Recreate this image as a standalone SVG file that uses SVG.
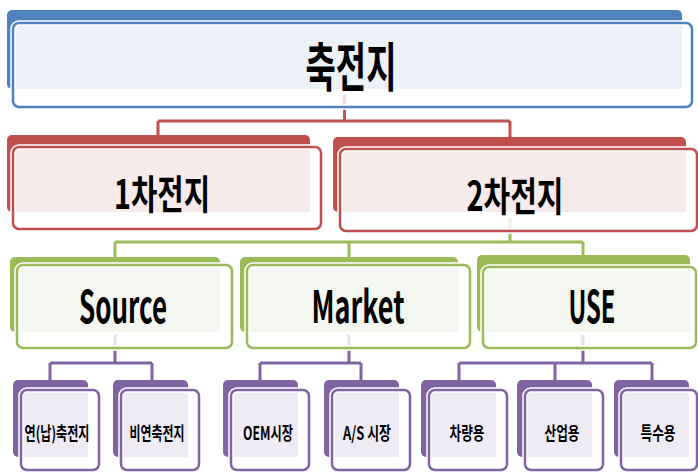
<svg xmlns="http://www.w3.org/2000/svg" width="698" height="472" viewBox="0 0 698 472">
<style>
.t{font-family:"Noto Sans CJK KR","Noto Sans",sans-serif;font-weight:bold;fill:#000;text-anchor:middle}
.halo{fill:none;stroke:#fff;stroke-width:5.5}
.fw{fill:#fff;fill-opacity:0.8}
.b .bk{fill:#4F81BD}.b .in{fill:#EDF2F9}.b .ln{fill:none;stroke:#4F81BD;stroke-width:2.5}
.r .bk{fill:#C0504D}.r .in{fill:#F6EAEA}.r .ln{fill:none;stroke:#C0504D;stroke-width:2.5}
.g .bk{fill:#9BBB59}.g .in{fill:#F4F7EF}.g .ln{fill:none;stroke:#9BBB59;stroke-width:2.5}
.p .bk{fill:#8064A2}.p .in{fill:#EFEBF5}.p .ln{fill:none;stroke:#8064A2;stroke-width:2.5}
.c{fill:none;stroke-width:3}
</style>
<rect width="698" height="472" fill="#fff"/>
<g id="connectors">
<path class="c" stroke="#C0504D" stroke-width="2.5" d="M344.5,95V121M158,121H510M158,121V135M510,121V137"/>
<path class="c" stroke="#9BBB59" d="M510,218V242M115,242H583M115,242V257M349,242V257M583,242V255"/>
<path class="c" stroke="#8064A2" d="M115,335V363M50,363H152M50,363V380M152,363V380M349,335V363M260,363H361M260,363V380M361,363V380M583,335V363M459,363H652M459,363V380M555,363V380M652,363V380"/>
</g>
<g id="n-root" class="b">
<rect class="bk" x="7" y="10" width="675" height="79" rx="5"/>
<rect class="fw" x="13" y="23" width="679" height="84" rx="6"/>
<rect class="in" x="13" y="23" width="669" height="66"/>
<rect class="halo" x="13" y="23" width="679" height="84" rx="6"/>
<rect class="ln" x="13" y="23" width="679" height="84" rx="6"/>
<text class="t" x="351" y="87" font-size="53" textLength="91" lengthAdjust="spacingAndGlyphs">축전지</text>
</g>
<g id="n-primary" class="r">
<rect class="bk" x="7" y="135" width="303" height="77" rx="5"/>
<rect class="fw" x="13" y="147" width="308" height="82" rx="6"/>
<rect class="in" x="13" y="147" width="297" height="65"/>
<rect class="halo" x="13" y="147" width="308" height="82" rx="6"/>
<rect class="ln" x="13" y="147" width="308" height="82" rx="6"/>
<text class="t" x="162" y="209" font-size="40" textLength="96" lengthAdjust="spacingAndGlyphs">1차전지</text>
</g>
<g id="n-secondary" class="r">
<rect class="bk" x="333" y="137" width="353" height="75" rx="5"/>
<rect class="fw" x="340" y="149" width="357" height="82" rx="6"/>
<rect class="in" x="340" y="149" width="346" height="63"/>
<rect class="halo" x="340" y="149" width="357" height="82" rx="6"/>
<rect class="ln" x="340" y="149" width="357" height="82" rx="6"/>
<text class="t" x="515" y="211" font-size="40" textLength="97" lengthAdjust="spacingAndGlyphs">2차전지</text>
</g>
<g id="n-source" class="g">
<rect class="bk" x="10" y="257" width="210" height="75" rx="5"/>
<rect class="fw" x="17" y="265" width="215" height="83" rx="6"/>
<rect class="in" x="17" y="265" width="203" height="67"/>
<rect class="halo" x="17" y="265" width="215" height="83" rx="6"/>
<rect class="ln" x="17" y="265" width="215" height="83" rx="6"/>
<text class="t" x="123" y="323" font-size="44" textLength="88" lengthAdjust="spacingAndGlyphs">Source</text>
</g>
<g id="n-market" class="g">
<rect class="bk" x="240" y="257" width="218" height="75" rx="5"/>
<rect class="fw" x="247" y="265" width="223" height="83" rx="6"/>
<rect class="in" x="247" y="265" width="211" height="67"/>
<rect class="halo" x="247" y="265" width="223" height="83" rx="6"/>
<rect class="ln" x="247" y="265" width="223" height="83" rx="6"/>
<text class="t" x="358" y="323" font-size="44" textLength="93" lengthAdjust="spacingAndGlyphs">Market</text>
</g>
<g id="n-use" class="g">
<rect class="bk" x="477" y="255" width="213" height="77" rx="5"/>
<rect class="fw" x="483" y="267" width="213" height="81" rx="6"/>
<rect class="in" x="483" y="267" width="207" height="65"/>
<rect class="halo" x="483" y="267" width="213" height="81" rx="6"/>
<rect class="ln" x="483" y="267" width="213" height="81" rx="6"/>
<text class="t" x="592" y="323" font-size="44" textLength="47" lengthAdjust="spacingAndGlyphs">USE</text>
</g>
<g id="n-lead" class="p">
<rect class="bk" x="13" y="380" width="75" height="77" rx="5"/>
<rect class="fw" x="21" y="390" width="78" height="80" rx="6"/>
<rect class="in" x="21" y="390" width="67" height="67"/>
<rect class="halo" x="21" y="390" width="78" height="80" rx="6"/>
<rect class="ln" x="21" y="390" width="78" height="80" rx="6"/>
<text class="t" x="57" y="440" font-size="18" textLength="65" lengthAdjust="spacingAndGlyphs">연(납)축전지</text>
</g>
<g id="n-nonlead" class="p">
<rect class="bk" x="113" y="380" width="75" height="77" rx="5"/>
<rect class="fw" x="121" y="390" width="78" height="80" rx="6"/>
<rect class="in" x="121" y="390" width="67" height="67"/>
<rect class="halo" x="121" y="390" width="78" height="80" rx="6"/>
<rect class="ln" x="121" y="390" width="78" height="80" rx="6"/>
<text class="t" x="157" y="440" font-size="18" textLength="55" lengthAdjust="spacingAndGlyphs">비연축전지</text>
</g>
<g id="n-oem" class="p">
<rect class="bk" x="223" y="380" width="75" height="77" rx="5"/>
<rect class="fw" x="231" y="390" width="78" height="80" rx="6"/>
<rect class="in" x="231" y="390" width="67" height="67"/>
<rect class="halo" x="231" y="390" width="78" height="80" rx="6"/>
<rect class="ln" x="231" y="390" width="78" height="80" rx="6"/>
<text class="t" x="268" y="440" font-size="18" textLength="50" lengthAdjust="spacingAndGlyphs">OEM시장</text>
</g>
<g id="n-as" class="p">
<rect class="bk" x="324" y="380" width="75" height="77" rx="5"/>
<rect class="fw" x="332" y="390" width="78" height="80" rx="6"/>
<rect class="in" x="332" y="390" width="67" height="67"/>
<rect class="halo" x="332" y="390" width="78" height="80" rx="6"/>
<rect class="ln" x="332" y="390" width="78" height="80" rx="6"/>
<text class="t" x="367" y="440" font-size="18" textLength="48" lengthAdjust="spacingAndGlyphs">A/S 시장</text>
</g>
<g id="n-vehicle" class="p">
<rect class="bk" x="421" y="380" width="75" height="77" rx="5"/>
<rect class="fw" x="429" y="390" width="78" height="80" rx="6"/>
<rect class="in" x="429" y="390" width="67" height="67"/>
<rect class="halo" x="429" y="390" width="78" height="80" rx="6"/>
<rect class="ln" x="429" y="390" width="78" height="80" rx="6"/>
<text class="t" x="467" y="440" font-size="18" textLength="35" lengthAdjust="spacingAndGlyphs">차량용</text>
</g>
<g id="n-industrial" class="p">
<rect class="bk" x="517" y="380" width="75" height="77" rx="5"/>
<rect class="fw" x="525" y="390" width="78" height="80" rx="6"/>
<rect class="in" x="525" y="390" width="67" height="67"/>
<rect class="halo" x="525" y="390" width="78" height="80" rx="6"/>
<rect class="ln" x="525" y="390" width="78" height="80" rx="6"/>
<text class="t" x="562" y="440" font-size="18" textLength="35" lengthAdjust="spacingAndGlyphs">산업용</text>
</g>
<g id="n-special" class="p">
<rect class="bk" x="614" y="380" width="75" height="77" rx="5"/>
<rect class="fw" x="621" y="390" width="76" height="80" rx="6"/>
<rect class="in" x="621" y="390" width="68" height="67"/>
<rect class="halo" x="621" y="390" width="76" height="80" rx="6"/>
<rect class="ln" x="621" y="390" width="76" height="80" rx="6"/>
<text class="t" x="658" y="440" font-size="18" textLength="35" lengthAdjust="spacingAndGlyphs">특수용</text>
</g>
</svg>
